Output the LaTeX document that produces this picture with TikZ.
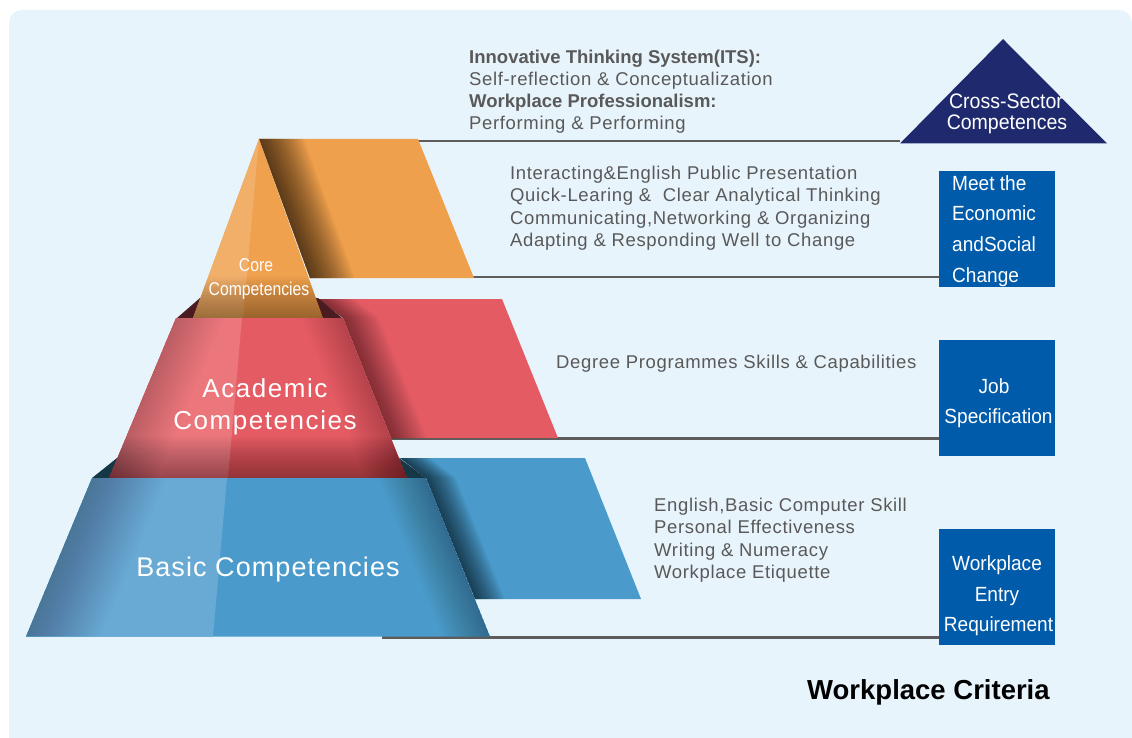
\documentclass[tikz,border=0pt]{standalone}
\usepackage{fontspec}
\setmainfont{Liberation Sans}
\newfontfamily\bodyfont{Liberation Sans}[LetterSpace=3.5]
\newfontfamily\condfont{Liberation Sans}[FakeStretch=0.93]
\newfontfamily\corefont{Liberation Sans}[FakeStretch=0.85]
\newfontfamily\acadfont{Liberation Sans}[LetterSpace=6]
\newfontfamily\basicfont{Liberation Sans}[LetterSpace=4]
\definecolor{bgblue}{HTML}{E8F4FC}
\definecolor{orangeP}{HTML}{EFA04C}
\definecolor{orangeL}{HTML}{F2AF6A}
\definecolor{orangeR}{HTML}{EFA14E}
\definecolor{redP}{HTML}{E45B63}
\definecolor{redL}{HTML}{EB767C}
\definecolor{redR}{HTML}{E55B63}
\definecolor{blueP}{HTML}{4A9BCB}
\definecolor{blueL}{HTML}{68AAD4}
\definecolor{blueR}{HTML}{4A9BCB}
\definecolor{darkred}{HTML}{4B1B22}
\definecolor{darkteal}{HTML}{163846}
\definecolor{navy}{HTML}{1F2A6E}
\definecolor{boxblue}{HTML}{005BAA}
\definecolor{txtgray}{HTML}{595959}
\definecolor{linegray}{HTML}{5C5C5C}
\begin{document}
\begin{tikzpicture}[x=1pt,y=-1pt,
  conn/.style={draw=linegray,line width=2.5pt},
  crit/.style={fill=boxblue,minimum width=116pt,minimum height=116pt,inner sep=0pt},
  body/.style={inner sep=0pt,anchor=base west,text=txtgray,font=\bodyfont\fontsize{18.5}{22}\selectfont},
  head/.style={inner sep=0pt,anchor=base west,text=txtgray,font=\bfseries\fontsize{18.5}{22}\selectfont},
  boxtxt/.style={inner sep=0pt,anchor=base,text=white,font=\condfont\fontsize{20.5}{24}\selectfont},
  boxtxtl/.style={boxtxt,anchor=base west},
  coretxt/.style={inner sep=0pt,anchor=base,text=white,font=\corefont\fontsize{18.5}{22}\selectfont},
  acadtxt/.style={inner sep=0pt,anchor=base,text=white,font=\acadfont\fontsize{26}{30}\selectfont},
  basictxt/.style={inner sep=0pt,anchor=base,text=white,font=\basicfont\fontsize{27}{30}\selectfont}]
\useasboundingbox (0,0) rectangle (1132,738);
\fill[white] (0,0) rectangle (1132,738);
\fill[bgblue,rounded corners=13pt] (9,10) rectangle (1132,770);

% named points and boxes
\coordinate (tA) at (1003,39);
\coordinate (tL) at (900,143.5);
\coordinate (tR) at (1107,143.5);
\node[crit] (b1) at (997,229) {};
\node[crit] (b2) at (997,398) {};
\node[crit] (b3) at (997,586.5) {};
\coordinate (l1a) at (418,141);
\coordinate (l2a) at (310,277);
\coordinate (l3a) at (391,438.5);
\coordinate (l4a) at (382,637.5);

% connectors
\draw[conn] (l1a) -- (l1a -| tL);
\draw[conn] (l2a) -- (l2a -| b1.west);
\draw[conn] (l3a) -- (l3a -| b2.west);
\draw[conn] (l4a) -- (l4a -| b3.west);

% back panels
\fill[orangeP] (259,139) -- (418,139) -- (474,278) -- (310,278) -- cycle;
\foreach \k in {1,...,30}
  \fill[black,opacity=0.026] (259,139) -- ({259+1.5*\k},139) -- ({310+1.5*\k},278) -- (310,278) -- cycle;
\fill[redP] (318,299) -- (502,299) -- (558,438) -- (391,438) -- (343,318) -- cycle;
\foreach \k in {1,...,24}
  \fill[black,opacity=0.018] (318,299) -- ({318+1.5*\k},299) -- ({343+1.5*\k},318) -- ({391+1.5*\k},438) -- (391,438) -- (343,318) -- cycle;
\fill[blueP] (400,458) -- (585,458) -- (641,599) -- (475,599) -- (426,478) -- cycle;
\foreach \k in {1,...,24}
  \fill[black,opacity=0.031] (400,458) -- ({400+1.25*\k},458) -- ({426+1.25*\k},478) -- ({475+1.25*\k},599) -- (475,599) -- (426,478) -- cycle;

% dark ledges
\fill[darkred] (177,318) -- (200,298) -- (318,298) -- (342,318) -- cycle;
\fill[darkteal] (92,478) -- (117,458) -- (399,458) -- (426,478) -- cycle;

% core pyramid
\fill[orangeR] (259,139) -- (323,318) -- (193,318) -- cycle;
\fill[orangeL] (259,139) -- (243,318) -- (193,318) -- cycle;
\begin{scope}
  \clip (259,139) -- (323,318) -- (193,318) -- cycle;
  \foreach \k in {1,...,24}
    \fill[black,opacity=0.015] (180,{318-1.75*\k}) rectangle (340,318);
\end{scope}

% academic frustum
\fill[redR] (176,318) -- (343,318) -- (407,478) -- (109,478) -- cycle;
\fill[redL] (176,318) -- (242,318) -- (228,478) -- (109,478) -- cycle;
\begin{scope}
  \clip (176,318) -- (343,318) -- (407,478) -- (109,478) -- cycle;
  \foreach \k in {1,...,24}
    \fill[black,opacity=0.015] (100,{478-1.75*\k}) rectangle (420,478);
  \foreach \k in {1,...,24}
    \fill[black,opacity=0.009] (343,318) -- ({343-1.75*\k},318) -- ({407-1.75*\k},478) -- (407,478) -- cycle;
  \foreach \k in {1,...,24}
    \fill[black,opacity=0.0075] (176,318) -- ({176+2*\k},318) -- ({109+2*\k},478) -- (109,478) -- cycle;
\end{scope}

% basic frustum
\fill[blueR] (92,478) -- (426,478) -- (490,636.5) -- (26,636.5) -- cycle;
\fill[blueL] (92,478) -- (227,478) -- (213,636.5) -- (26,636.5) -- cycle;
\begin{scope}
  \clip (92,478) -- (426,478) -- (490,636.5) -- (26,636.5) -- cycle;
  \foreach \k in {1,...,30}
    \fill[black,opacity=0.008] (92,478) -- ({92+2.5*\k},478) -- ({26+2.5*\k},636.5) -- (26,636.5) -- cycle;
  \foreach \k in {1,...,24}
    \fill[black,opacity=0.011] (426,478) -- ({426-2*\k},478) -- ({490-2*\k},636.5) -- (490,636.5) -- cycle;
\end{scope}

% pyramid labels
\node[coretxt] (core1) at (256,271.7) {Core};
\node[coretxt] (core2) at (259,295.7) {Competencies};
\node[acadtxt] (acad1) at (265,397) {Academic};
\node[acadtxt] (acad2) at (265,429) {Competencies};
\node[basictxt] (basic) at (268,576.7) {Basic Competencies};

% cross-sector triangle
\fill[navy] (tA) -- (tR) -- (tL) -- cycle;
\node[boxtxt,font=\condfont\fontsize{21}{24}\selectfont] (cs1) at (1006,108.3) {Cross-Sector};
\node[boxtxt,font=\condfont\fontsize{21}{24}\selectfont] (cs2) at (1007,130) {Competences};

% box texts
\node[boxtxtl] (m1) at (952,190.7) {Meet the};
\node[boxtxtl] (m2) at (952,220.7) {Economic};
\node[boxtxtl] (m3) at (952,251.4) {andSocial};
\node[boxtxtl] (m4) at (952,282) {Change};
\node[boxtxt] (j1) at (994,393.3) {Job};
\node[boxtxt] (j2) at (998.5,423.3) {Specification};
\node[boxtxt] (w1) at (997,570.7) {Workplace};
\node[boxtxt] (w2) at (997,601.7) {Entry};
\node[boxtxt] (w3) at (998.5,631.7) {Requirement};

% description texts
\node[head] (its1) at (469,64) {Innovative Thinking System(ITS):};
\node[body] (its2) at (469,86) {Self-reflection \& Conceptualization};
\node[head] (its3) at (469,108) {Workplace Professionalism:};
\node[body] (its4) at (469,130) {Performing \& Performing};

\node[body] (c1) at (510,179.3) {Interacting\&English Public Presentation};
\node[body] (c2) at (510,201.8) {Quick-Learing \&\ \ Clear Analytical Thinking};
\node[body] (c3) at (510,224.3) {Communicating,Networking \& Organizing};
\node[body] (c4) at (510,246.8) {Adapting \& Responding Well to Change};

\node[body] (d1) at (556,368.5) {Degree Programmes Skills \& Capabilities};

\node[body] (e1) at (654,511) {English,Basic Computer Skill};
\node[body] (e2) at (654,533.5) {Personal Effectiveness};
\node[body] (e3) at (654,556) {Writing \& Numeracy};
\node[body] (e4) at (654,578.5) {Workplace Etiquette};

\node[inner sep=0pt,anchor=base west,font=\bfseries\fontsize{27.5}{30}\selectfont] (wc) at (807,699) {Workplace Criteria};
\end{tikzpicture}
\end{document}
